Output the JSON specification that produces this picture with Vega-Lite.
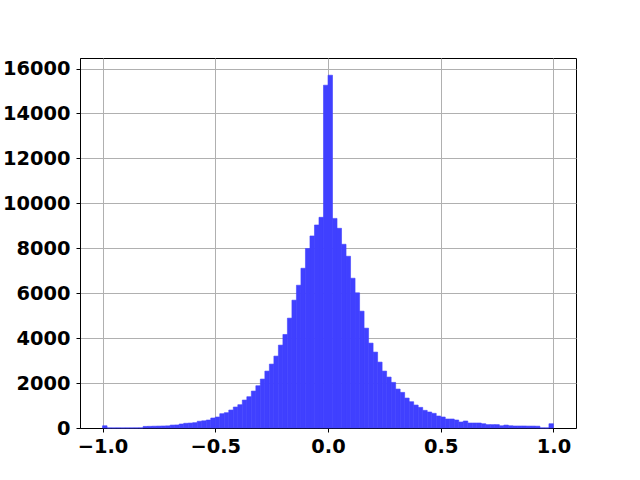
{
  "$schema": "https://vega.github.io/schema/vega-lite/v6.json",
  "autosize": "none",
  "width": 496,
  "height": 370,
  "padding": {"left": 80, "top": 58, "right": 64, "bottom": 52},
  "background": "white",
  "config": {
    "view": {"stroke": "black", "strokeWidth": 1},
    "axis": {
      "labelFont": "DejaVu Sans",
      "labelFontWeight": "bold",
      "labelFontSize": 19.4,
      "labelColor": "black",
      "tickColor": "black",
      "tickSize": 4,
      "domainColor": "black",
      "domainWidth": 1,
      "gridColor": "#b0b0b0",
      "gridWidth": 1,
      "gridOpacity": 1,
      "zindex": 1
    }
  },
  "data": {
    "values": [
      {"x0": -1.00, "x1": -0.98, "count": 100},
      {"x0": -0.98, "x1": -0.96, "count": 3},
      {"x0": -0.96, "x1": -0.94, "count": 2},
      {"x0": -0.94, "x1": -0.92, "count": 3},
      {"x0": -0.92, "x1": -0.90, "count": 2},
      {"x0": -0.90, "x1": -0.88, "count": 3},
      {"x0": -0.88, "x1": -0.86, "count": 3},
      {"x0": -0.86, "x1": -0.84, "count": 4},
      {"x0": -0.84, "x1": -0.82, "count": 5},
      {"x0": -0.82, "x1": -0.80, "count": 70},
      {"x0": -0.80, "x1": -0.78, "count": 75},
      {"x0": -0.78, "x1": -0.76, "count": 80},
      {"x0": -0.76, "x1": -0.74, "count": 85},
      {"x0": -0.74, "x1": -0.72, "count": 90},
      {"x0": -0.72, "x1": -0.70, "count": 95},
      {"x0": -0.70, "x1": -0.68, "count": 130},
      {"x0": -0.68, "x1": -0.66, "count": 135},
      {"x0": -0.66, "x1": -0.64, "count": 178},
      {"x0": -0.64, "x1": -0.62, "count": 210},
      {"x0": -0.62, "x1": -0.60, "count": 220},
      {"x0": -0.60, "x1": -0.58, "count": 237},
      {"x0": -0.58, "x1": -0.56, "count": 300},
      {"x0": -0.56, "x1": -0.54, "count": 320},
      {"x0": -0.54, "x1": -0.52, "count": 355},
      {"x0": -0.52, "x1": -0.50, "count": 444},
      {"x0": -0.50, "x1": -0.48, "count": 489},
      {"x0": -0.48, "x1": -0.46, "count": 637},
      {"x0": -0.46, "x1": -0.44, "count": 681},
      {"x0": -0.44, "x1": -0.42, "count": 800},
      {"x0": -0.42, "x1": -0.40, "count": 933},
      {"x0": -0.40, "x1": -0.38, "count": 1037},
      {"x0": -0.38, "x1": -0.36, "count": 1244},
      {"x0": -0.36, "x1": -0.34, "count": 1393},
      {"x0": -0.34, "x1": -0.32, "count": 1644},
      {"x0": -0.32, "x1": -0.30, "count": 1881},
      {"x0": -0.30, "x1": -0.28, "count": 2178},
      {"x0": -0.28, "x1": -0.26, "count": 2533},
      {"x0": -0.26, "x1": -0.24, "count": 2844},
      {"x0": -0.24, "x1": -0.22, "count": 3200},
      {"x0": -0.22, "x1": -0.20, "count": 3689},
      {"x0": -0.20, "x1": -0.18, "count": 4163},
      {"x0": -0.18, "x1": -0.16, "count": 4890},
      {"x0": -0.16, "x1": -0.14, "count": 5690},
      {"x0": -0.14, "x1": -0.12, "count": 6355},
      {"x0": -0.12, "x1": -0.10, "count": 7110},
      {"x0": -0.10, "x1": -0.08, "count": 7990},
      {"x0": -0.08, "x1": -0.06, "count": 8548},
      {"x0": -0.06, "x1": -0.04, "count": 9037},
      {"x0": -0.04, "x1": -0.02, "count": 9378},
      {"x0": -0.02, "x1": 0.00, "count": 15259},
      {"x0": 0.00, "x1": 0.02, "count": 15704},
      {"x0": 0.02, "x1": 0.04, "count": 9330},
      {"x0": 0.04, "x1": 0.06, "count": 8889},
      {"x0": 0.06, "x1": 0.08, "count": 8178},
      {"x0": 0.08, "x1": 0.10, "count": 7644},
      {"x0": 0.10, "x1": 0.12, "count": 6667},
      {"x0": 0.12, "x1": 0.14, "count": 6015},
      {"x0": 0.14, "x1": 0.16, "count": 5200},
      {"x0": 0.16, "x1": 0.18, "count": 4444},
      {"x0": 0.18, "x1": 0.20, "count": 3778},
      {"x0": 0.20, "x1": 0.22, "count": 3378},
      {"x0": 0.22, "x1": 0.24, "count": 2933},
      {"x0": 0.24, "x1": 0.26, "count": 2533},
      {"x0": 0.26, "x1": 0.28, "count": 2267},
      {"x0": 0.28, "x1": 0.30, "count": 2030},
      {"x0": 0.30, "x1": 0.32, "count": 1733},
      {"x0": 0.32, "x1": 0.34, "count": 1585},
      {"x0": 0.34, "x1": 0.36, "count": 1333},
      {"x0": 0.36, "x1": 0.38, "count": 1170},
      {"x0": 0.38, "x1": 0.40, "count": 1022},
      {"x0": 0.40, "x1": 0.42, "count": 918},
      {"x0": 0.42, "x1": 0.44, "count": 785},
      {"x0": 0.44, "x1": 0.46, "count": 711},
      {"x0": 0.46, "x1": 0.48, "count": 652},
      {"x0": 0.48, "x1": 0.50, "count": 533},
      {"x0": 0.50, "x1": 0.52, "count": 489},
      {"x0": 0.52, "x1": 0.54, "count": 400},
      {"x0": 0.54, "x1": 0.56, "count": 400},
      {"x0": 0.56, "x1": 0.58, "count": 355},
      {"x0": 0.58, "x1": 0.60, "count": 267},
      {"x0": 0.60, "x1": 0.62, "count": 311},
      {"x0": 0.62, "x1": 0.64, "count": 222},
      {"x0": 0.64, "x1": 0.66, "count": 222},
      {"x0": 0.66, "x1": 0.68, "count": 222},
      {"x0": 0.68, "x1": 0.70, "count": 190},
      {"x0": 0.70, "x1": 0.72, "count": 150},
      {"x0": 0.72, "x1": 0.74, "count": 150},
      {"x0": 0.74, "x1": 0.76, "count": 150},
      {"x0": 0.76, "x1": 0.78, "count": 100},
      {"x0": 0.78, "x1": 0.80, "count": 130},
      {"x0": 0.80, "x1": 0.82, "count": 100},
      {"x0": 0.82, "x1": 0.84, "count": 90},
      {"x0": 0.84, "x1": 0.86, "count": 90},
      {"x0": 0.86, "x1": 0.88, "count": 90},
      {"x0": 0.88, "x1": 0.90, "count": 85},
      {"x0": 0.90, "x1": 0.92, "count": 85},
      {"x0": 0.92, "x1": 0.94, "count": 80},
      {"x0": 0.94, "x1": 0.96, "count": 4},
      {"x0": 0.96, "x1": 0.98, "count": 3},
      {"x0": 0.98, "x1": 1.00, "count": 190}
    ]
  },
  "mark": {"type": "rect", "color": "#4040ff", "stroke": "#4040ff", "strokeWidth": 0.6},
  "encoding": {
    "x": {
      "field": "x0",
      "type": "quantitative",
      "scale": {"domain": [-1.1, 1.1], "nice": false, "zero": false},
      "axis": {"title": null, "values": [-1, -0.5, 0, 0.5, 1], "format": ".1f", "labelPadding": 5}
    },
    "x2": {"field": "x1"},
    "y": {
      "field": "count",
      "type": "quantitative",
      "scale": {"domain": [0, 16470], "nice": false},
      "axis": {"title": null, "values": [0, 2000, 4000, 6000, 8000, 10000, 12000, 14000, 16000], "format": "d", "labelPadding": 6}
    },
    "y2": {"datum": 0}
  }
}
